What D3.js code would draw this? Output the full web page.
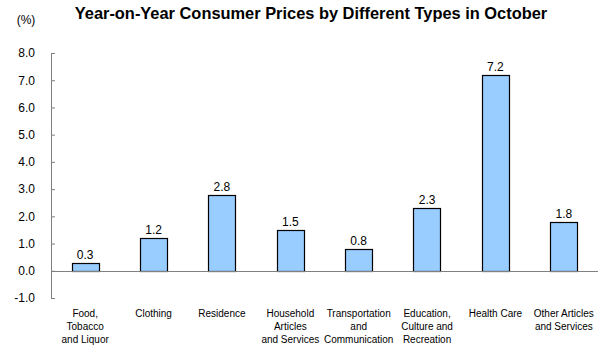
<!DOCTYPE html>
<html>
<head>
<meta charset="utf-8">
<script src="https://cdn.jsdelivr.net/npm/d3@7"></script>
<style>
  body { margin: 0; background: #fff; }
  svg { display: block; font-family: Arial, "Liberation Sans", sans-serif; }
</style>
</head>
<body>
<div id="chart"></div>
<script>
// Chart data
const categories = [
  'Food, Tobacco and Liquor', 'Clothing', 'Residence', 'Household Articles and Services',
  'Transportation and Communication', 'Education, Culture and Recreation', 'Health Care',
  'Other Articles and Services'
];
const categoryLines = [
  ['Food,', 'Tobacco', 'and Liquor'],
  ['Clothing'],
  ['Residence'],
  ['Household', 'Articles', 'and Services'],
  ['Transportation', 'and', 'Communication'],
  ['Education,', 'Culture and', 'Recreation'],
  ['Health Care'],
  ['Other Articles', 'and Services']
];
const values = [0.3, 1.2, 2.8, 1.5, 0.8, 2.3, 7.2, 1.8];
const yTicks = [-1, 0, 1, 2, 3, 4, 5, 6, 7, 8];

const width = 607;
const height = 353;
const margin = { left: 51, right: 9, top: 53, bottom: 55 };

const svg = d3.select('#chart')
  .append('svg')
  .attr('width', width)
  .attr('height', height);

const x = d3.scaleBand()
  .domain(categories)
  .range([margin.left, width - margin.right])
  .paddingInner(0.6)
  .paddingOuter(0.3);

const y = d3.scaleLinear()
  .domain([-1, 8])
  .range([height - margin.bottom, margin.top]);

// Title and unit
svg.append('text')
  .attr('x', 311)
  .attr('y', 19)
  .attr('text-anchor', 'middle')
  .attr('font-size', 16.4)
  .attr('font-weight', 'bold')
  .text('Year-on-Year Consumer Prices by Different Types in October');

svg.append('text')
  .attr('x', 26)
  .attr('y', 24)
  .attr('text-anchor', 'middle')
  .attr('font-size', 12)
  .text('(%)');

// Y axis, ticks pointing inward
const yAxis = svg.append('g')
  .attr('transform', `translate(${margin.left},0)`)
  .call(d3.axisRight(y).tickValues(yTicks).tickSize(4).tickFormat(d3.format('.1f')));
yAxis.select('.domain').attr('stroke', '#808080').attr('d', `M4,${y(8) + 0.5}H0.5V${y(-1) + 0.5}H4`);
yAxis.selectAll('.tick line').attr('stroke', '#808080');
yAxis.selectAll('.tick text')
  .attr('x', -16)
  .attr('text-anchor', 'end')
  .attr('font-size', 12)
  .attr('font-family', 'Arial, "Liberation Sans", sans-serif')
  .attr('fill', '#000')
  .text(d => d < 0 ? '-' + d3.format('.1f')(-d) : d3.format('.1f')(d));

// Bars
svg.append('g')
  .selectAll('rect')
  .data(values)
  .enter().append('rect')
  .attr('x', (d, i) => Math.round(x(categories[i])) + 0.5)
  .attr('y', d => Math.round(y(d)) + 0.5)
  .attr('width', Math.round(x.bandwidth()))
  .attr('height', d => Math.round(y(0)) - Math.round(y(d)))
  .attr('fill', '#99ccff')
  .attr('stroke', '#000')
  .attr('stroke-width', 1.2);

// Zero line
svg.append('line')
  .attr('x1', margin.left)
  .attr('x2', width - margin.right)
  .attr('y1', Math.round(y(0)) + 0.5)
  .attr('y2', Math.round(y(0)) + 0.5)
  .attr('stroke', '#808080');

// Value labels
svg.append('g')
  .selectAll('text')
  .data(values)
  .enter().append('text')
  .attr('x', (d, i) => x(categories[i]) + x.bandwidth() / 2)
  .attr('y', d => y(d) - 4)
  .attr('text-anchor', 'middle')
  .attr('font-size', 12)
  .text(d => d3.format('.1f')(d));

// Category labels
const catGroup = svg.append('g')
  .selectAll('text')
  .data(categoryLines)
  .enter().append('text')
  .attr('x', (d, i) => x(categories[i]) + x.bandwidth() / 2)
  .attr('y', 317)
  .attr('text-anchor', 'middle')
  .attr('font-size', 10);

catGroup.selectAll('tspan')
  .data((d, i) => d.map(line => ({ line, i })))
  .enter().append('tspan')
  .attr('x', d => x(categories[d.i]) + x.bandwidth() / 2)
  .attr('dy', (d, j) => j === 0 ? 0 : 13)
  .text(d => d.line);
</script>
</body>
</html>
